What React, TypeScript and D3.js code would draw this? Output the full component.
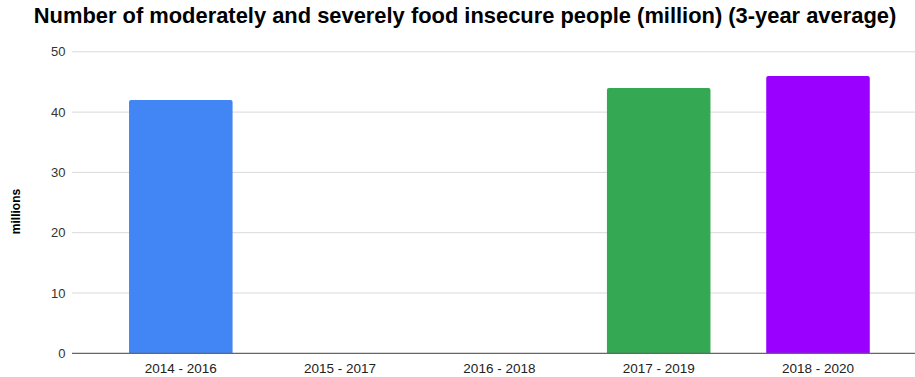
import React from "react";
import * as d3 from "d3";

const categories = ["2014 - 2016", "2015 - 2017", "2016 - 2018", "2017 - 2019", "2018 - 2020"];
const values: (number | null)[] = [42, null, null, 44, 46];
const barColors = ["#4285f4", "#4285f4", "#4285f4", "#34a853", "#9900ff"];
const yTicks = [0, 10, 20, 30, 40, 50];
const title = "Number of moderately and severely food insecure people (million) (3-year average)";
const yLabel = "millions";

const W = 915;
const H = 377;
const plotLeft = 72;
const plotRight = 915;
const plotTop = 51.8;
const plotBottom = 353.3;

export default function App() {
  const x = d3
    .scaleBand<string>()
    .domain(categories)
    .range([101.15, 897.65])
    .paddingInner(0.35)
    .paddingOuter(0.175);
  const y = d3.scaleLinear().domain([0, 50]).range([plotBottom, plotTop]);
  const r = 2;

  const barPath = (x0: number, w: number, yTop: number, yBot: number) => {
    const p = d3.path();
    p.moveTo(x0, yBot);
    p.lineTo(x0, yTop + r);
    p.quadraticCurveTo(x0, yTop, x0 + r, yTop);
    p.lineTo(x0 + w - r, yTop);
    p.quadraticCurveTo(x0 + w, yTop, x0 + w, yTop + r);
    p.lineTo(x0 + w, yBot);
    p.closePath();
    return p.toString();
  };

  return (
    <svg
      width={W}
      height={H}
      style={{ position: "absolute", left: 0, top: 0, background: "#fff" }}
      fontFamily="'Liberation Sans', Arial, sans-serif"
    >
      <text
        x={465}
        y={23}
        textAnchor="middle"
        fontWeight="bold"
        fontSize={21.9}
        fill="#000"
      >
        {title}
      </text>
      {yTicks.map((t) => (
        <g key={t}>
          {t !== 0 && (
            <line x1={plotLeft} x2={plotRight} y1={y(t)} y2={y(t)} stroke="#d9d9d9" strokeWidth={1} />
          )}
          <text x={65.5} y={y(t)} dy="0.36em" textAnchor="end" fontSize={13} fill="#333">
            {t}
          </text>
        </g>
      ))}
      <text
        transform={`translate(19.5,211.5) rotate(-90)`}
        textAnchor="middle"
        fontWeight="bold"
        fontSize={12}
        fill="#000"
      >
        {yLabel}
      </text>
      {categories.map((c, i) => {
        const v = values[i];
        if (v == null) return null;
        return (
          <path key={c} d={barPath(x(c)!, x.bandwidth(), y(v), y(0))} fill={barColors[i]} />
        );
      })}
      <line x1={plotLeft} x2={plotRight} y1={y(0)} y2={y(0)} stroke="#666" strokeWidth={1.3} />
      {categories.map((c) => (
        <text
          key={c}
          x={x(c)! + x.bandwidth() / 2}
          y={372.5}
          textAnchor="middle"
          fontSize={13.5}
          fill="#222"
        >
          {c}
        </text>
      ))}
    </svg>
  );
}
